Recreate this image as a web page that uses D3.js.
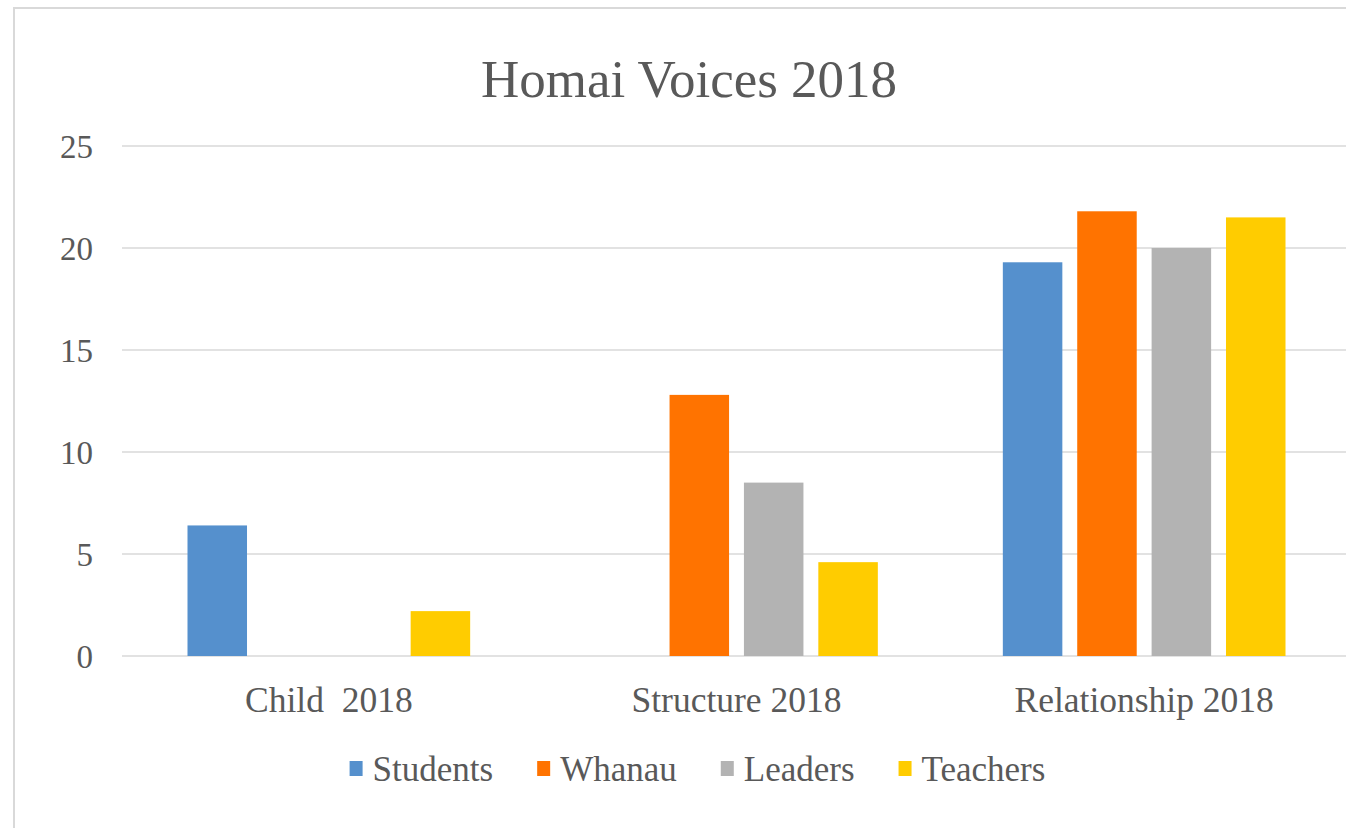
<!DOCTYPE html>
<html>
<head>
<meta charset="utf-8">
<script src="https://cdn.jsdelivr.net/npm/d3@7"></script>
<style>
  html, body { margin: 0; padding: 0; background: #fff; }
  svg { display: block; }
  text { font-family: "Liberation Serif", "Times New Roman", serif; fill: #595959; white-space: pre; }
</style>
</head>
<body>
<svg id="chart" width="1346" height="828"></svg>
<script>
// Categories, series and values
const categories = ["Child  2018", "Structure 2018", "Relationship 2018"];
const seriesNames = ["Students", "Whanau", "Leaders", "Teachers"];
const students = [6.4, 0, 19.3];
const whanau   = [0, 12.8, 21.8];
const leaders  = [0, 8.5, 20.0];
const teachers = [2.2, 4.6, 21.5];
const seriesValues = [students, whanau, leaders, teachers];
const yTicks = [0, 5, 10, 15, 20, 25];
const colors = ["#5590cd", "#ff7300", "#b3b3b3", "#ffcc00"];
const title = "Homai Voices 2018";

const svg = d3.select("#chart");

// Chart frame
svg.append("rect")
  .attr("x", 14).attr("y", 8)
  .attr("width", 1346).attr("height", 840)
  .attr("fill", "#fff")
  .attr("stroke", "#d9d9d9").attr("stroke-width", 2);

const plot = { left: 125, right: 1348, top: 146, bottom: 656 };

const x0 = d3.scaleBand()
  .domain(categories)
  .range([plot.left, plot.right])
  .paddingInner(0).paddingOuter(0);

const groupPad = 62.5;
const x1 = d3.scaleBand()
  .domain(seriesNames)
  .range([groupPad, x0.bandwidth() - groupPad])
  .paddingInner(0.2).paddingOuter(0);

const y = d3.scaleLinear().domain([0, 25]).range([plot.bottom, plot.top]);

// Gridlines
svg.append("g")
  .selectAll("line")
  .data(yTicks)
  .join("line")
  .attr("x1", plot.left - 3).attr("x2", 1346)
  .attr("y1", d => y(d)).attr("y2", d => y(d))
  .attr("stroke", "#d9d9d9").attr("stroke-width", 1.5);

// Y axis labels
const yAxis = d3.axisLeft(y).tickValues(yTicks).tickSize(0).tickPadding(0);
const gy = svg.append("g")
  .attr("transform", "translate(93,0)")
  .call(yAxis);
gy.select(".domain").remove();
gy.selectAll("text")
  .attr("font-size", 33)
  .attr("dy", "0.34em")
  .style("font-family", "Liberation Serif, serif")
  .style("fill", "#595959");

// Bars
const rows = categories.map((c, i) => ({
  category: c,
  values: seriesNames.map((s, j) => ({ series: s, value: seriesValues[j][i], color: colors[j] }))
}));

svg.append("g")
  .selectAll("g")
  .data(rows)
  .join("g")
  .attr("transform", d => `translate(${x0(d.category)},0)`)
  .selectAll("rect")
  .data(d => d.values.filter(v => v.value > 0))
  .join("rect")
  .attr("x", d => x1(d.series))
  .attr("width", x1.bandwidth())
  .attr("y", d => y(d.value))
  .attr("height", d => y(0) - y(d.value))
  .attr("fill", d => d.color);

// Category labels
const xAxis = d3.axisBottom(x0).tickSize(0).tickPadding(0);
const gx = svg.append("g")
  .attr("transform", `translate(0,${plot.bottom})`)
  .call(xAxis);
gx.select(".domain").remove();
gx.selectAll("text")
  .attr("font-size", 35.5)
  .attr("y", 56)
  .attr("dy", 0)
  .style("font-family", "Liberation Serif, serif")
  .style("fill", "#595959");

// Title
svg.append("text")
  .attr("x", 689).attr("y", 97)
  .attr("text-anchor", "middle")
  .attr("font-size", 53)
  .text(title);

// Legend
const legend = svg.append("g");
const items = legend.selectAll("g")
  .data(seriesNames)
  .join("g");
items.append("rect")
  .attr("width", 13).attr("height", 15)
  .attr("y", -20)
  .attr("fill", (d, i) => colors[i]);
items.append("text")
  .attr("x", 23)
  .attr("font-size", 35)
  .text(d => d);

let cursor = 0;
const itemGap = 44;
items.each(function () {
  const g = d3.select(this);
  g.attr("transform", `translate(${cursor},0)`);
  cursor += 23 + g.select("text").node().getComputedTextLength() + itemGap;
});
const totalWidth = cursor - itemGap;
legend.attr("transform", `translate(${697.5 - totalWidth / 2},781)`);
</script>
</body>
</html>
